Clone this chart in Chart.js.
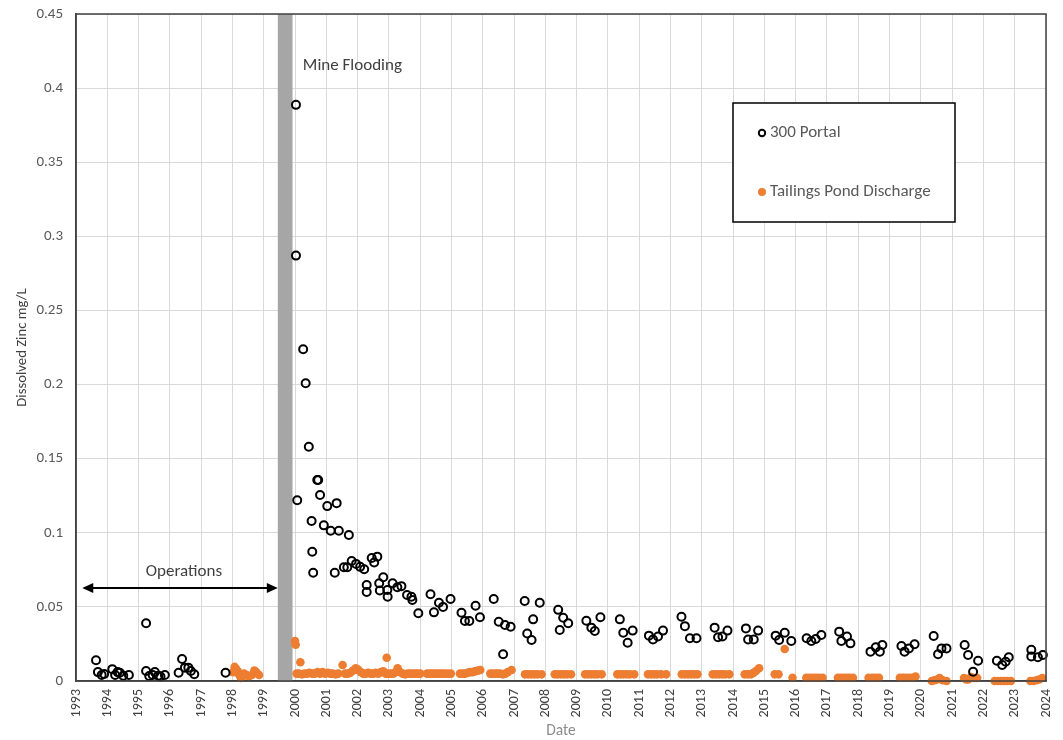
<!DOCTYPE html>
<html>
<head>
<meta charset="utf-8">
<script src="https://cdn.jsdelivr.net/npm/chart.js@4"></script>
<style>
  body { margin: 0; background: #fff; }
  #wrap { width: 1063px; height: 740px; position: relative; }
</style>
</head>
<body>
<div id="wrap"><canvas id="zincChart"></canvas></div>
<script>
// 300 Portal samples (decimal year, dissolved zinc mg/L)
const portalDates = [
  1993.64, 1993.70, 1993.82, 1993.90, 1994.16, 1994.25, 1994.33, 1994.40, 1994.51, 1994.69,
  1995.24, 1995.24, 1995.34, 1995.45, 1995.52, 1995.63, 1995.70, 1995.84,
  1996.28, 1996.39, 1996.48, 1996.59, 1996.67, 1996.78, 1997.78,
  2000.03, 2000.03, 2000.07, 2000.26, 2000.34, 2000.44, 2000.53, 2000.55, 2000.58,
  2000.71, 2000.74, 2000.80, 2000.92, 2001.03, 2001.14, 2001.27, 2001.33, 2001.40,
  2001.56, 2001.67, 2001.72, 2001.81, 2001.95, 2002.08, 2002.21, 2002.29, 2002.29,
  2002.45, 2002.53, 2002.63, 2002.69, 2002.71, 2002.82, 2002.95, 2002.96,
  2003.12, 2003.27, 2003.40, 2003.58, 2003.72, 2003.75, 2003.94,
  2004.33, 2004.44, 2004.60, 2004.73, 2004.97,
  2005.32, 2005.43, 2005.57, 2005.77, 2005.91,
  2006.35, 2006.51, 2006.65, 2006.71, 2006.89,
  2007.34, 2007.42, 2007.56, 2007.61, 2007.82,
  2008.41, 2008.46, 2008.57, 2008.73,
  2009.31, 2009.47, 2009.58, 2009.76,
  2010.38, 2010.49, 2010.63, 2010.79,
  2011.31, 2011.44, 2011.60, 2011.76,
  2012.35, 2012.46, 2012.62, 2012.83,
  2013.41, 2013.52, 2013.66, 2013.82,
  2014.41, 2014.48, 2014.66, 2014.80,
  2015.36, 2015.47, 2015.65, 2015.86,
  2016.35, 2016.50, 2016.64, 2016.82,
  2017.39, 2017.46, 2017.64, 2017.75,
  2018.39, 2018.56, 2018.69, 2018.77,
  2019.38, 2019.48, 2019.62, 2019.80,
  2020.41, 2020.55, 2020.66, 2020.82,
  2021.40, 2021.51, 2021.67, 2021.83,
  2022.43, 2022.60, 2022.71, 2022.81,
  2023.53, 2023.53, 2023.74, 2023.90
];
const portalZinc = [
  0.014, 0.006, 0.004, 0.0047, 0.008, 0.004, 0.006, 0.0056, 0.0036, 0.004,
  0.039, 0.0067, 0.0034, 0.004, 0.006, 0.0036, 0.003, 0.004,
  0.0056, 0.0148, 0.009, 0.009, 0.0067, 0.0045, 0.0056,
  0.3887, 0.287, 0.122, 0.2238, 0.2009, 0.158, 0.108, 0.0872, 0.073,
  0.1356, 0.1356, 0.1255, 0.105, 0.118, 0.1014, 0.073, 0.120, 0.1014,
  0.0767, 0.0767, 0.0985, 0.081, 0.079, 0.077, 0.0754, 0.0648, 0.060,
  0.083, 0.080, 0.0839, 0.066, 0.061, 0.070, 0.0614, 0.0569,
  0.066, 0.0632, 0.064, 0.058, 0.0569, 0.0547, 0.0457,
  0.0585, 0.0463, 0.0528, 0.050, 0.0553,
  0.046, 0.0405, 0.0405, 0.0508, 0.043,
  0.0553, 0.040, 0.018, 0.0378, 0.0366,
  0.054, 0.032, 0.0277, 0.0416, 0.0528,
  0.048, 0.0344, 0.0427, 0.039,
  0.0407, 0.036, 0.0337, 0.043,
  0.0416, 0.0326, 0.0258, 0.034,
  0.0306, 0.028, 0.030, 0.034,
  0.0434, 0.037, 0.0288, 0.0288,
  0.036, 0.0295, 0.030, 0.034,
  0.0355, 0.028, 0.028, 0.034,
  0.0306, 0.0277, 0.0326, 0.027,
  0.0288, 0.027, 0.0283, 0.031,
  0.0333, 0.027, 0.030, 0.0254,
  0.0198, 0.0227, 0.0198, 0.0243,
  0.0236, 0.0198, 0.022, 0.0248,
  0.0304, 0.018, 0.022, 0.022,
  0.0243, 0.0175, 0.0063, 0.0137,
  0.0137, 0.0108, 0.013, 0.016,
  0.021, 0.0166, 0.016, 0.0175
];

// Tailings Pond Discharge samples
const pondDates = [
  1998.02, 1998.07, 1998.12, 1998.17, 1998.22, 1998.27, 1998.32, 1998.37, 1998.45, 1998.52,
  1998.62, 1998.70, 1998.76, 1998.85,
  2000.00, 2000.02, 2000.17, 2000.05, 2000.12, 2000.22, 2000.30, 2000.38, 2000.46, 2000.55,
  2000.63, 2000.72, 2000.80, 2000.88, 2000.96, 2001.05, 2001.13, 2001.21, 2001.30, 2001.38,
  2001.52, 2001.60, 2001.68, 2001.76, 2001.85, 2001.94, 2002.02, 2002.10, 2002.18, 2002.26,
  2002.34, 2002.42, 2002.50, 2002.58, 2002.66, 2002.74, 2002.82, 2002.93, 2002.90, 2002.98,
  2003.06, 2003.14, 2003.22, 2003.28, 2003.36, 2003.44, 2003.52, 2003.60, 2003.68, 2003.76,
  2003.84, 2003.92, 2004.00,
  2004.22, 2004.30, 2004.38, 2004.46, 2004.54, 2004.62, 2004.70, 2004.78, 2004.88, 2004.98,
  2005.27, 2005.35, 2005.43, 2005.51, 2005.59, 2005.67, 2005.75, 2005.84, 2005.92,
  2006.24, 2006.32, 2006.40, 2006.48, 2006.56, 2006.64, 2006.72, 2006.80, 2006.92,
  2007.35, 2007.45, 2007.55, 2007.65, 2007.75, 2007.88,
  2008.30, 2008.40, 2008.50, 2008.60, 2008.70, 2008.82,
  2009.27, 2009.37, 2009.47, 2009.57, 2009.67, 2009.80,
  2010.30, 2010.40, 2010.50, 2010.60, 2010.70, 2010.84,
  2011.28, 2011.38, 2011.48, 2011.58, 2011.70, 2011.86,
  2012.36, 2012.46, 2012.56, 2012.66, 2012.76, 2012.86,
  2013.35, 2013.45, 2013.55, 2013.65, 2013.75, 2013.88,
  2014.37, 2014.47, 2014.57, 2014.65, 2014.73, 2014.83,
  2015.33, 2015.45, 2015.65, 2015.90,
  2016.34, 2016.44, 2016.54, 2016.64, 2016.74, 2016.86,
  2017.35, 2017.45, 2017.55, 2017.65, 2017.73, 2017.83,
  2018.33, 2018.45, 2018.55, 2018.66,
  2019.33, 2019.43, 2019.53, 2019.63, 2019.73, 2019.83,
  2020.35, 2020.44, 2020.52, 2020.60, 2020.70, 2020.82,
  2021.38, 2021.45, 2021.51, 2021.60, 2021.68, 2021.80,
  2022.36, 2022.46, 2022.56, 2022.66, 2022.76, 2022.88,
  2023.50, 2023.60, 2023.70, 2023.78, 2023.88
];
const pondZinc = [
  0.006, 0.0095, 0.008, 0.0065, 0.004, 0.002, 0.003, 0.005, 0.004, 0.003,
  0.004, 0.007, 0.006, 0.004,
  0.027, 0.0245, 0.0126, 0.005, 0.005, 0.0045, 0.005, 0.005, 0.0055, 0.005,
  0.005, 0.006, 0.005, 0.006, 0.005, 0.0055, 0.005, 0.005, 0.0045, 0.005,
  0.0108, 0.005, 0.005, 0.0055, 0.007, 0.0086, 0.0075, 0.006, 0.005, 0.005,
  0.0055, 0.005, 0.005, 0.0055, 0.005, 0.006, 0.0065, 0.0157, 0.005, 0.005,
  0.005, 0.005, 0.006, 0.0086, 0.006, 0.005, 0.0045, 0.005, 0.005, 0.005,
  0.005, 0.005, 0.005,
  0.005, 0.005, 0.005, 0.005, 0.005, 0.005, 0.005, 0.005, 0.005, 0.005,
  0.005, 0.005, 0.005, 0.0055, 0.006, 0.006, 0.0065, 0.007, 0.0074,
  0.005, 0.005, 0.005, 0.005, 0.005, 0.0045, 0.005, 0.006, 0.0074,
  0.0045, 0.0045, 0.0045, 0.0045, 0.0045, 0.0045,
  0.0045, 0.0045, 0.0045, 0.0045, 0.0045, 0.0045,
  0.0045, 0.0045, 0.0045, 0.0045, 0.0045, 0.0045,
  0.0045, 0.0045, 0.0045, 0.0045, 0.0045, 0.0045,
  0.0045, 0.0045, 0.0045, 0.0045, 0.0045, 0.0045,
  0.0045, 0.0045, 0.0045, 0.0045, 0.0045, 0.0045,
  0.0045, 0.0045, 0.0045, 0.0045, 0.0045, 0.0045,
  0.0045, 0.0045, 0.0045, 0.0055, 0.0067, 0.0086,
  0.0045, 0.0045, 0.0216, 0.0022,
  0.0022, 0.0022, 0.0022, 0.0022, 0.0022, 0.0022,
  0.0022, 0.0022, 0.0022, 0.0022, 0.0022, 0.0022,
  0.0022, 0.0022, 0.0022, 0.0022,
  0.0022, 0.0022, 0.0022, 0.0022, 0.0022, 0.003,
  0.0, 0.0005, 0.001, 0.002, 0.0005, 0.0,
  0.002, 0.001, 0.001, 0.0027, 0.002, 0.002,
  0.0, 0.0, 0.0, 0.0, 0.0, 0.0,
  0.0, 0.0, 0.0005, 0.001, 0.002
];

// Annotation positions in data units
const floodStart = 1999.45, floodEnd = 1999.92;
const opsStart = 1993.2, opsEnd = 1999.45, opsLevel = 0.0627;

const FONT = 'Carlito, Lato, sans-serif';

function toPoints(xs, ys) {
  return xs.map((x, i) => ({ x: x, y: ys[i] }));
}

// keep the plot box where the reference has it
function fixBox(s, size) {
  if (s.isHorizontal()) s.height = size; else s.width = size;
  s.paddingTop = 0;
  s.paddingBottom = 0;
  s.paddingLeft = 0;
  s.paddingRight = 0;
}

// Grey flooding band, drawn under the markers
const floodBand = {
  id: 'floodBand',
  beforeDatasetsDraw(chart) {
    const { ctx, chartArea, scales } = chart;
    const x1 = scales.x.getPixelForValue(floodStart);
    const x2 = scales.x.getPixelForValue(floodEnd);
    ctx.save();
    ctx.fillStyle = '#a6a6a6';
    ctx.fillRect(x1, chartArea.top, x2 - x1, chartArea.bottom - chartArea.top);
    ctx.restore();
  }
};

// Frame, text notes, operations arrow and legend box
const extras = {
  id: 'extras',
  afterDraw(chart) {
    const { ctx, chartArea, scales } = chart;
    const x = scales.x, y = scales.y;
    ctx.save();

    // plot frame
    ctx.strokeStyle = '#404040';
    ctx.lineWidth = 1.5;
    ctx.strokeRect(chartArea.left, chartArea.top, chartArea.right - chartArea.left, chartArea.bottom - chartArea.top);

    // notes
    ctx.fillStyle = '#404040';
    ctx.font = '17px ' + FONT;
    ctx.textBaseline = 'middle';
    ctx.textAlign = 'left';
    ctx.fillText('Mine Flooding', x.getPixelForValue(2000.25), y.getPixelForValue(0.415));
    ctx.textAlign = 'center';
    ctx.fillText('Operations', x.getPixelForValue(1996.45), y.getPixelForValue(0.0735));

    // double arrow
    const ax1 = x.getPixelForValue(opsStart), ax2 = x.getPixelForValue(opsEnd);
    const ay = y.getPixelForValue(opsLevel);
    ctx.strokeStyle = '#000';
    ctx.fillStyle = '#000';
    ctx.lineWidth = 2;
    ctx.beginPath();
    ctx.moveTo(ax1 + 6, ay);
    ctx.lineTo(ax2 - 6, ay);
    ctx.stroke();
    ctx.beginPath();
    ctx.moveTo(ax1, ay); ctx.lineTo(ax1 + 11, ay - 5); ctx.lineTo(ax1 + 11, ay + 5); ctx.closePath();
    ctx.moveTo(ax2, ay); ctx.lineTo(ax2 - 11, ay - 5); ctx.lineTo(ax2 - 11, ay + 5); ctx.closePath();
    ctx.fill();

    // legend box
    const bx = 733, by = 103, bw = 222, bh = 119;
    ctx.fillStyle = '#fff';
    ctx.fillRect(bx, by, bw, bh);
    ctx.strokeStyle = '#000';
    ctx.lineWidth = 1.5;
    ctx.strokeRect(bx, by, bw, bh);

    ctx.lineWidth = 2;
    ctx.beginPath();
    ctx.arc(bx + 29, by + 30, 3.2, 0, Math.PI * 2);
    ctx.stroke();
    ctx.fillStyle = '#ed7d31';
    ctx.beginPath();
    ctx.arc(bx + 29, by + 89, 4, 0, Math.PI * 2);
    ctx.fill();

    ctx.fillStyle = '#595959';
    ctx.font = '17px ' + FONT;
    ctx.textAlign = 'left';
    ctx.fillText('300 Portal', bx + 37, by + 30);
    ctx.fillText('Tailings Pond Discharge', bx + 37, by + 89);

    ctx.restore();
  }
};

new Chart(document.getElementById('zincChart').getContext('2d'), {
  type: 'scatter',
  data: {
    datasets: [{
      label: '300 Portal',
      data: toPoints(portalDates, portalZinc),
      pointRadius: 4,
      pointHoverRadius: 4,
      pointBorderWidth: 2,
      borderColor: '#000',
      backgroundColor: 'rgba(0,0,0,0)',
      clip: false
    }, {
      label: 'Tailings Pond Discharge',
      data: toPoints(pondDates, pondZinc),
      pointRadius: 4.3,
      pointHoverRadius: 4.3,
      pointBorderWidth: 0,
      borderColor: '#ed7d31',
      backgroundColor: '#ed7d31',
      clip: false
    }]
  },
  options: {
    responsive: true,
    maintainAspectRatio: false,
    animation: false,
    layout: { padding: { left: 0, right: 17, top: 14, bottom: 0 } },
    plugins: {
      legend: { display: false },
      tooltip: { enabled: false }
    },
    scales: {
      x: {
        type: 'linear',
        min: 1993,
        max: 2024,
        afterFit: s => fixBox(s, 59),
        grid: { color: '#d9d9d9', lineWidth: 1, drawTicks: false },
        border: { color: '#404040', width: 1.5 },
        ticks: {
          stepSize: 1,
          minRotation: 90,
          maxRotation: 90,
          padding: 8,
          color: '#404040',
          font: { family: FONT, size: 14 },
          callback: v => String(v)
        },
        title: {
          display: true,
          text: 'Date',
          color: '#8c8c8c',
          font: { family: FONT, size: 15.5 },
          padding: { top: 0, bottom: 0 }
        }
      },
      y: {
        min: 0,
        max: 0.45,
        afterFit: s => fixBox(s, 76),
        grid: { color: '#d9d9d9', lineWidth: 1, drawTicks: false },
        border: { color: '#404040', width: 1.5 },
        ticks: {
          stepSize: 0.05,
          padding: 13,
          color: '#595959',
          font: { family: FONT, size: 15 },
          callback: v => String(Number(v.toFixed(2)))
        },
        title: {
          display: true,
          text: 'Dissolved Zinc mg/L',
          color: '#404040',
          font: { family: FONT, size: 14.7 },
          padding: { top: 14, bottom: 0 }
        }
      }
    }
  },
  plugins: [floodBand, extras]
});
</script>
</body>
</html>
